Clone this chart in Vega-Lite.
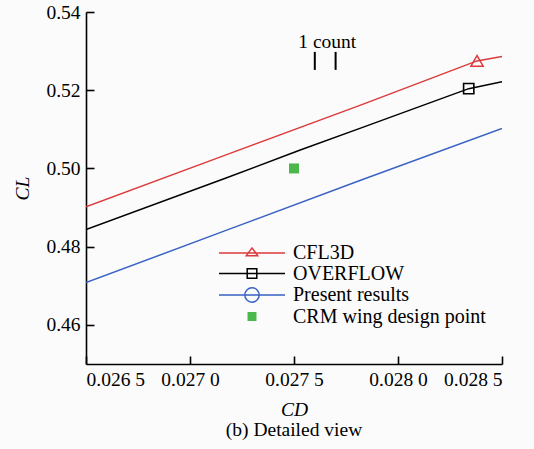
{
  "$schema": "https://vega.github.io/schema/vega-lite/v6.json",
  "width": 416,
  "height": 352,
  "autosize": {"type": "none"},
  "padding": {"left": 86, "top": 12, "right": 32, "bottom": 85},
  "background": "#fbfbfb",
  "config": {
    "font": "Liberation Serif",
    "view": {"stroke": null},
    "axis": {
      "grid": false,
      "domainColor": "#000000",
      "domainWidth": 1.6,
      "tickColor": "#000000",
      "tickWidth": 1.6,
      "tickSize": -8,
      "labelColor": "#000000",
      "labelFont": "Liberation Serif",
      "labelFontSize": 19.5,
      "titleFont": "Liberation Serif",
      "titleFontSize": 19.5,
      "titleFontStyle": "italic",
      "titleFontWeight": "normal",
      "titleColor": "#000000"
    },
    "legend": {
      "padding": 0,
      "symbolSize": 144,
      "symbolStrokeWidth": 1.5,
      "labelFont": "Liberation Serif",
      "labelFontSize": 20,
      "labelColor": "#000000",
      "labelOffset": 31,
      "labelLimit": 0,
      "rowPadding": 0.5
    }
  },
  "title": {
    "text": "(b) Detailed view",
    "orient": "bottom",
    "font": "Liberation Serif",
    "fontSize": 19.5,
    "fontWeight": "normal",
    "color": "#000000",
    "offset": 2
  },
  "datasets": {
    "lines": [
      {"series": "CFL3D", "cd": 0.0265, "cl": 0.4902},
      {"series": "CFL3D", "cd": 0.02717, "cl": 0.5034},
      {"series": "CFL3D", "cd": 0.02782, "cl": 0.5162},
      {"series": "CFL3D", "cd": 0.02838, "cl": 0.5275},
      {"series": "CFL3D", "cd": 0.0285, "cl": 0.5286},
      {"series": "OVERFLOW", "cd": 0.0265, "cl": 0.4844},
      {"series": "OVERFLOW", "cd": 0.02717, "cl": 0.4975},
      {"series": "OVERFLOW", "cd": 0.02753, "cl": 0.5047},
      {"series": "OVERFLOW", "cd": 0.02782, "cl": 0.5103},
      {"series": "OVERFLOW", "cd": 0.02834, "cl": 0.5204},
      {"series": "OVERFLOW", "cd": 0.0285, "cl": 0.5222},
      {"series": "Present results", "cd": 0.0265, "cl": 0.4708},
      {"series": "Present results", "cd": 0.02717, "cl": 0.4841},
      {"series": "Present results", "cd": 0.02782, "cl": 0.497},
      {"series": "Present results", "cd": 0.0285, "cl": 0.5102}
    ],
    "markers": [
      {"series": "CFL3D", "cd": 0.02838, "cl": 0.5275},
      {"series": "OVERFLOW", "cd": 0.02834, "cl": 0.5204},
      {"series": "CRM wing design point", "cd": 0.0275, "cl": 0.5}
    ],
    "counts": [
      {"cd": 0.0276, "cl": 0.5252, "cl2": 0.5298},
      {"cd": 0.0277, "cl": 0.5252, "cl2": 0.5298}
    ],
    "notes": [
      {"cd": 0.02766, "cl": 0.5323, "text": "1 count"}
    ]
  },
  "encoding": {
    "x": {
      "field": "cd",
      "type": "quantitative",
      "scale": {"domain": [0.0265, 0.0285], "nice": false, "zero": false},
      "axis": {
        "values": [0.0265, 0.027, 0.0275, 0.028, 0.0285],
        "labelExpr": "slice(format(datum.value, '.4f'), 0, 5) + ' ' + slice(format(datum.value, '.4f'), 5)",
        "labelPadding": 14,
        "title": "CD",
        "titlePadding": 12
      }
    },
    "y": {
      "field": "cl",
      "type": "quantitative",
      "scale": {"domain": [0.45, 0.54], "nice": false, "zero": false},
      "axis": {
        "values": [0.46, 0.48, 0.5, 0.52, 0.54],
        "format": ".2f",
        "labelPadding": 14,
        "title": "CL",
        "titlePadding": 13
      }
    }
  },
  "layer": [
    {
      "data": {"name": "markers"},
      "transform": [{"filter": "false"}],
      "mark": {"type": "point", "filled": false, "strokeWidth": 1.5, "opacity": 1},
      "encoding": {
        "color": {
          "field": "series",
          "type": "nominal",
          "scale": {
            "domain": ["CFL3D", "OVERFLOW", "Present results", "CRM wing design point"],
            "range": ["#dc3a3c", "#000000", "#3a62c4", "#4cb84c"]
          },
          "legend": {
            "title": null, "orient": "none", "legendX": 156, "legendY": 231,
            "labelFont": "Liberation Serif", "labelFontSize": 20,
            "encode": {"symbols": {"update": {
              "fill": {"scale": "fill", "field": "value"},
              "stroke": {"scale": "color", "field": "value"},
              "opacity": {"value": 1},
              "fillOpacity": {"value": 1},
              "strokeOpacity": {"value": 1},
              "strokeWidth": {"value": 1.5}
            }}}
          }
        },
        "fill": {
          "field": "series",
          "type": "nominal",
          "scale": {
            "domain": ["CFL3D", "OVERFLOW", "Present results", "CRM wing design point"],
            "range": ["transparent", "transparent", "transparent", "#4cb84c"]
          },
          "legend": {"title": null, "orient": "none", "legendX": 156, "legendY": 231}
        },
        "shape": {
          "field": "series",
          "type": "nominal",
          "scale": {
            "domain": ["CFL3D", "OVERFLOW", "Present results", "CRM wing design point"],
            "range": [
              "M-5.5,0H5.5M-0.95,0.45L0,-0.85L0.95,0.45Z",
              "M-5.5,0H5.5M-0.8,-0.8H0.8V0.8H-0.8Z",
              "M-5.5,0H5.5M-1.2,0A1.2,1.2,0,1,0,1.2,0A1.2,1.2,0,1,0,-1.2,0Z",
              "M-0.62,-0.62H0.62V0.62H-0.62Z"
            ]
          },
          "legend": {"title": null, "orient": "none", "legendX": 156, "legendY": 231}
        }
      }
    },
    {
      "data": {"name": "lines"},
      "mark": {"type": "line", "strokeWidth": 1.5, "clip": true},
      "encoding": {
        "color": {"field": "series", "type": "nominal"},
        "order": {"field": "cd", "type": "quantitative"}
      }
    },
    {
      "data": {"name": "markers"},
      "transform": [{"filter": "datum.series == 'CFL3D'"}],
      "mark": {"type": "point", "shape": "triangle-up", "size": 150, "strokeWidth": 1.5, "filled": false, "color": "#dc3a3c", "opacity": 1}
    },
    {
      "data": {"name": "markers"},
      "transform": [{"filter": "datum.series == 'OVERFLOW'"}],
      "mark": {"type": "point", "shape": "square", "size": 105, "strokeWidth": 1.6, "filled": false, "color": "#000000", "opacity": 1}
    },
    {
      "data": {"name": "markers"},
      "transform": [{"filter": "datum.series == 'CRM wing design point'"}],
      "mark": {"type": "point", "shape": "square", "size": 100, "filled": true, "color": "#4cb84c", "opacity": 1}
    },
    {
      "data": {"name": "counts"},
      "mark": {"type": "rule", "strokeWidth": 2, "color": "#000000"},
      "encoding": {
        "y2": {"field": "cl2"}
      }
    },
    {
      "data": {"name": "notes"},
      "mark": {"type": "text", "fontSize": 19.5, "font": "Liberation Serif", "align": "center", "baseline": "middle", "color": "#000000"},
      "encoding": {
        "text": {"field": "text", "type": "nominal"}
      }
    }
  ]
}
